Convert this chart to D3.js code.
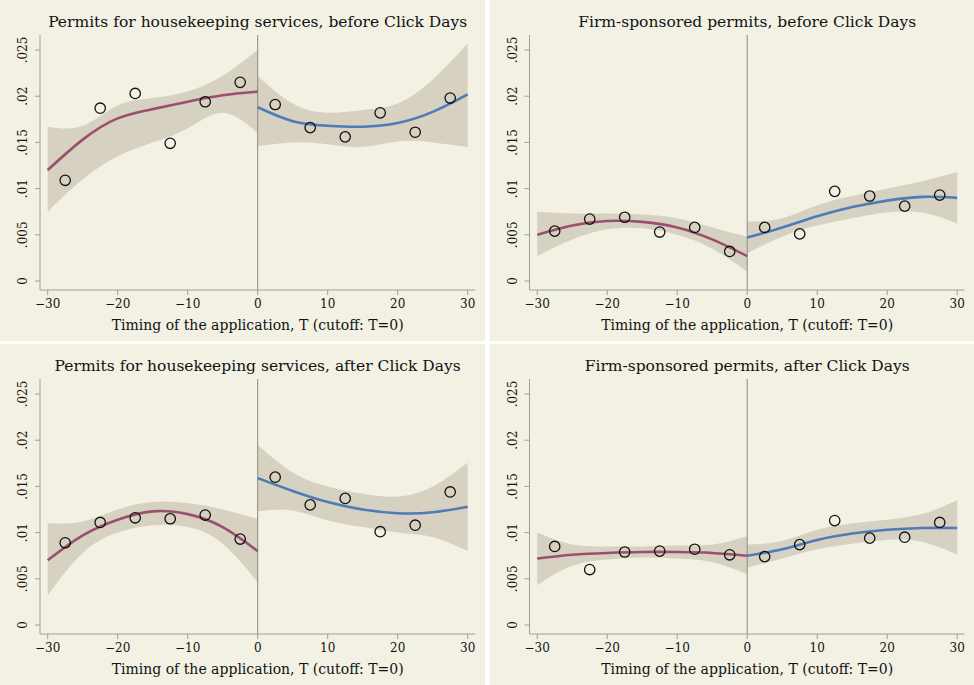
<!DOCTYPE html><html><head><meta charset="utf-8">
<script src="https://d3js.org/d3.v7.min.js"></script>
<style>body{margin:0;background:#fff}svg text{font-family:"DejaVu Serif",serif;fill:#111}</style></head><body>
<svg id="c" width="974" height="685"></svg>
<script>
const titles=["Permits for housekeeping services, before Click Days","Firm-sponsored permits, before Click Days","Permits for housekeeping services, after Click Days","Firm-sponsored permits, after Click Days"];
const xLabel="Timing of the application, T (cutoff: T=0)";
const xTicks=[-30,-20,-10,0,10,20,30];
const yTicks=[0,.005,.01,.015,.02,.025];
const yTickLabels=["0",".005",".01",".015",".02",".025"];
const binX=[-27.5,-22.5,-17.5,-12.5,-7.5,-2.5,2.5,7.5,12.5,17.5,22.5,27.5];
const leftX=[-30,-25,-20,-15,-10,-5,0];
const rightX=[0,5,10,15,20,25,30];
const binY=[
 [.0109,.0187,.0203,.0149,.0194,.0215,.0191,.0166,.0156,.0182,.0161,.0198],
 [.0054,.0067,.0069,.0053,.0058,.0032,.0058,.0051,.0097,.0092,.0081,.0093],
 [.0089,.0111,.0116,.0115,.0119,.0093,.0160,.0130,.0137,.0101,.0108,.0144],
 [.0085,.0060,.0079,.0080,.0082,.0076,.0074,.0087,.0113,.0094,.0095,.0111]];
const leftFit=[[.012,.0153,.0176,.0186,.0194,.0201,.0205],[.005,.0060,.0065,.0064,.0058,.0045,.0027],[.0070,.0097,.0114,.0123,.0120,.0106,.0080],[.0072,.0076,.0078,.0079,.0079,.0078,.0075]];
const leftHi=[[.0167,.0168,.019,.0198,.0205,.0222,.025],[.0075,.0073,.0073,.0072,.0068,.0058,.0048],[.0110,.0112,.0125,.0133,.0132,.0125,.0115],[.0100,.0087,.0085,.0085,.0086,.0087,.0096]];
const leftLo=[[.0075,.011,.0135,.015,.0165,.0182,.016],[.0027,.0045,.0056,.0057,.0050,.0035,.0010],[.0032,.0078,.0100,.0108,.0106,.0088,.0046],[.0043,.0064,.0071,.0073,.0072,.0068,.0055]];
const rightFit=[[.0188,.0173,.0168,.0167,.0171,.0183,.0202],[.0047,.0058,.0070,.0080,.0087,.0091,.0090],[.0159,.0145,.0133,.0125,.0121,.0122,.0128],[.0075,.0082,.0092,.0099,.0103,.0105,.0105]];
const rightHi=[[.0222,.0192,.0182,.0185,.0192,.0218,.0257],[.0064,.0068,.0082,.0092,.0100,.0108,.0118],[.0195,.0165,.0150,.0142,.0139,.0150,.0176],[.0087,.0091,.0103,.0110,.0114,.0120,.0135]];
const rightLo=[[.0146,.0150,.0148,.0145,.0151,.0150,.0145],[.003,.0048,.0060,.0068,.0074,.0074,.0062],[.0123,.0124,.0113,.0106,.0100,.0095,.0080],[.0062,.0072,.0082,.0088,.0092,.0090,.0076]];

const svg=d3.select("#c");
const offs=[[0,0],[489.5,0],[0,344],[489.5,344]];
const PW=485,PH=341;
offs.forEach((o,i)=>{
 const g=svg.append("g").attr("transform",`translate(${o[0]},${o[1]})`);
 g.append("rect").attr("width",PW).attr("height",PH).attr("fill","#f3f1e4");
 const x=d3.scaleLinear().domain([-30,30]).range([47.7,467.7]);
 const y=d3.scaleLinear().domain([0,.025]).range([281,50]);
 const area=d3.area().x((d)=>x(d[0])).y0(d=>y(d[1])).y1(d=>y(d[2])).curve(d3.curveNatural);
 const line=d3.line().x(d=>x(d[0])).y(d=>y(d[1])).curve(d3.curveNatural);
 [[leftX,leftHi,leftLo],[rightX,rightHi,rightLo]].forEach(([xs,h,l])=>{
  g.append("path").attr("d",area(xs.map((v,k)=>[v,l[i][k],h[i][k]]))).attr("fill","#d7d1c1");
 });
 g.append("line").attr("x1",x(0)).attr("x2",x(0)).attr("y1",35).attr("y2",290).attr("stroke","#8a8a84").attr("stroke-width",1);
 [[leftX,leftFit,"#9b4f6f"],[rightX,rightFit,"#4f7bb8"]].forEach(([xs,f,c])=>{
  g.append("path").attr("d",line(xs.map((v,k)=>[v,f[i][k]]))).attr("fill","none").attr("stroke",c).attr("stroke-width",2.6);
 });
 binX.forEach((v,k)=>g.append("circle").attr("cx",x(v)).attr("cy",y(binY[i][k])).attr("r",5.2).attr("fill","none").attr("stroke","#111").attr("stroke-width",1.3));
 g.append("line").attr("x1",40).attr("x2",475).attr("y1",290).attr("y2",290).attr("stroke","#a09f98");
 g.append("line").attr("x1",40).attr("x2",40).attr("y1",35).attr("y2",290).attr("stroke","#a09f98");
 xTicks.forEach(t=>{
  g.append("line").attr("x1",x(t)).attr("x2",x(t)).attr("y1",290).attr("y2",295).attr("stroke","#a09f98");
  g.append("text").attr("x",x(t)).attr("y",308).attr("text-anchor","middle").attr("font-size",12).text(t<0?"\u2212"+(-t):t);
 });
 yTicks.forEach((t,k)=>{
  g.append("line").attr("x1",35).attr("x2",40).attr("y1",y(t)).attr("y2",y(t)).attr("stroke","#a09f98");
  g.append("text").attr("transform",`translate(27,${y(t)}) rotate(-90)`).attr("text-anchor","middle").attr("font-size",12).text(yTickLabels[k]);
 });
 g.append("text").attr("x",257.7).attr("y",330).attr("text-anchor","middle").attr("font-size",14).text(xLabel);
 g.append("text").attr("x",257.7).attr("y",27).attr("text-anchor","middle").attr("font-size",15.5).text(titles[i]);
});
</script></body></html>
